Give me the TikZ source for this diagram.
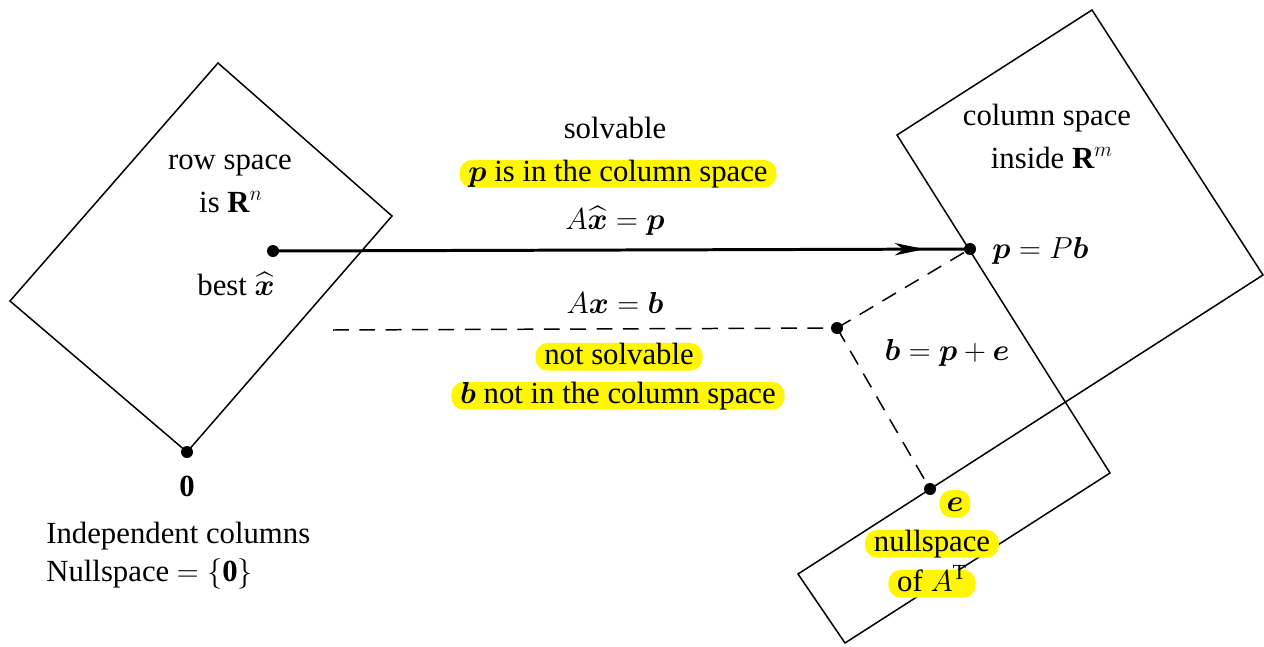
\documentclass[tikz,border=0pt]{standalone}
\usepackage{amsmath,amsfonts}
\usepackage{fontspec}
\setmainfont{Liberation Serif}
\usetikzlibrary{arrows.meta,decorations.markings}
\definecolor{hilite}{RGB}{255, 247, 0}
\tikzset{
    space/.style={draw=black, line width=0.85pt, line join=miter},
    dot/.style={circle, fill=black, inner sep=0pt, minimum size=0.24cm},
    hilight/.style={fill=hilite, rounded corners=7pt, inner xsep=5pt, inner ysep=0pt,
        text height=12pt, text depth=3.8pt},
    lbl/.style={anchor=base, inner sep=0pt}
}

\begin{document}
\begin{tikzpicture}[x=0.02cm, y=-0.02cm, every node/.style={font=\fontsize{17.5}{21}\selectfont}]
\useasboundingbox (0,0) rectangle (1264,646);

% Row space (left diamond)
\draw[space] (218,63) -- (392,216) -- (187,452) -- (10,301) -- cycle;
\node[lbl] (rowa) at (230,169) {row space};
\node[lbl] (rowb) at (231,212) {is $\mathbf{R}^n$};
\node[lbl] (best) at (236,295) {best $\widehat{\boldsymbol{x}}$};
\node[lbl] (zerolbl) at (187,496) {$\mathbf{0}$};
\node[lbl, anchor=base west] (indep) at (46,543) {Independent columns};
\node[lbl, anchor=base west] (nulla) at (46,581) {Nullspace $=\{\mathbf{0}\}$};

% Column space and nullspace of A^T (tilted rectangles)
\draw[space] (897,135) -- (1092,10) -- (1263,275) -- (798,574) -- (845,643) -- (1110,473) -- cycle;
\node[lbl] (cola) at (1047,125) {column space};
\node[lbl] (colb) at (1052,168) {inside $\mathbf{R}^m$};

% Points
\node[dot] (xhat) at (273,251) {};
\node[dot] (p) at (970,249) {};
\node[dot] (b) at (837,328) {};
\node[dot] (e) at (930,489) {};
\node[dot] (zero) at (187,452) {};
\coordinate (bstart) at (333,330);

% Solvable: A xhat = p
\draw[line width=1.7pt, postaction={decorate}, decoration={markings,
    mark=at position 0.935 with {\arrow{Stealth[length=17pt, width=7pt, inset=5pt]}}}] (xhat.center) -- (p.center);
\node[lbl] (solv) at (615,138) {solvable};
\node[lbl, hilight] (pin) at (618,181) {$\boldsymbol{p}$ is in the column space};
\node[lbl] (axp) at (615,229) {$A\widehat{\boldsymbol{x}} = \boldsymbol{p}$};
\node[lbl, anchor=base west] (peq) at (992,258) {$\boldsymbol{p} = P\boldsymbol{b}$};

% Not solvable: A x = b
\draw[line width=0.85pt, dash pattern=on 9pt off 6pt] (bstart) -- (b.center);
\draw[line width=0.85pt, dash pattern=on 9pt off 6pt] (b.center) -- (p.center);
\draw[line width=0.85pt, dash pattern=on 9pt off 6pt] (b.center) -- (e.center);
\node[lbl] (axb) at (615,313) {$A\boldsymbol{x} = \boldsymbol{b}$};
\node[lbl, hilight] (notsolv) at (619,364) {not solvable};
\node[lbl, hilight] (bnot) at (618,403) {$\boldsymbol{b}$ not in the column space};
\node[lbl] (bpe) at (947,360) {$\boldsymbol{b} = \boldsymbol{p} + \boldsymbol{e}$};

% Error e in the nullspace of A^T
\node[lbl, hilight, inner xsep=4pt] (elbl) at (955,511) {$\boldsymbol{e}$};
\node[lbl, hilight] (nullb) at (932,551) {nullspace};
\node[lbl, hilight] (nullc) at (932,591) {of $A^{\mathrm{T}}$};
\end{tikzpicture}
\end{document}
